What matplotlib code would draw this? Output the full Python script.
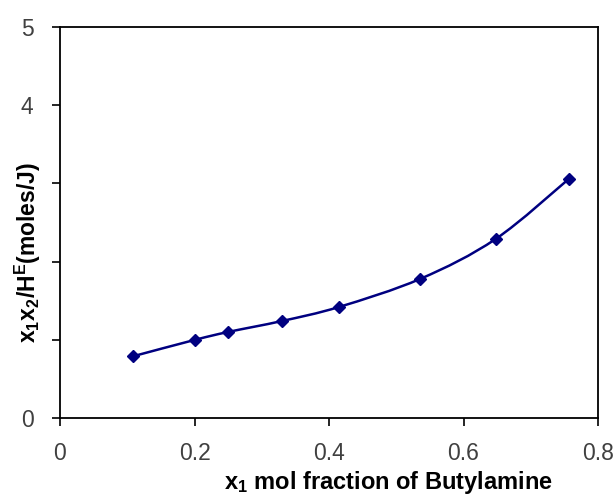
import matplotlib
matplotlib.use("Agg")
import matplotlib.pyplot as plt
from matplotlib.path import Path
from matplotlib.patches import PathPatch
import numpy as np

plt.rcParams["font.family"] = ["Liberation Sans", "DejaVu Sans"]
plt.rcParams["mathtext.default"] = "regular"

x1 = [0.109, 0.201, 0.250, 0.330, 0.415, 0.536, 0.648, 0.757]
ratio = [0.79, 1.00, 1.10, 1.24, 1.42, 1.78, 2.29, 3.06]


def smooth_path(xs, ys, t=1 / 6):
    # Catmull-Rom style bezier through the points (like a smoothed line)
    xs = np.asarray(xs)
    ys = np.asarray(ys)
    n = len(xs)
    verts = [(xs[0], ys[0])]
    codes = [Path.MOVETO]
    for i in range(n - 1):
        p0 = np.array([xs[max(i - 1, 0)], ys[max(i - 1, 0)]])
        p1 = np.array([xs[i], ys[i]])
        p2 = np.array([xs[i + 1], ys[i + 1]])
        p3 = np.array([xs[min(i + 2, n - 1)], ys[min(i + 2, n - 1)]])
        c1 = p1 + (p2 - p0) * t
        c2 = p2 - (p3 - p1) * t
        verts += [tuple(c1), tuple(c2), tuple(p2)]
        codes += [Path.CURVE4] * 3
    return Path(verts, codes)


def main():
    fig = plt.figure(figsize=(6.16, 4.95), dpi=100)
    ax = fig.add_axes([0.0974, 0.1556, 0.8734, 0.7899])

    ax.add_patch(PathPatch(smooth_path(x1, ratio), facecolor="none",
                           edgecolor="#000080", linewidth=1.8))
    ax.plot(x1, ratio, linestyle="none", marker="D", markersize=6,
            color="#000080")

    ax.set_xlim(0, 0.8)
    ax.set_ylim(0, 5)
    ax.set_xticks([0, 0.2, 0.4, 0.6, 0.8])
    ax.set_xticklabels(["0", "0.2", "0.4", "0.6", "0.8"])
    ax.set_yticks([0, 1, 2, 3, 4, 5])
    ax.set_yticklabels(["0", "", "", "", "4", "5"])
    ax.tick_params(direction="out", length=6, width=1.2, labelsize=16.5,
                   labelcolor="#404040")
    ax.tick_params(axis="x", pad=11)
    ax.tick_params(axis="y", pad=13)
    for s in ax.spines.values():
        s.set_linewidth(1.3)

    fig.text(0.63, 0.026, r"x$_1$ mol fraction of Butylamine",
             fontsize=17, fontweight="bold", ha="center", va="center")
    fig.text(0.046, 0.49, r"x$_1$x$_2$/H$^E$(moles/J)",
             fontsize=16.5, fontweight="bold", rotation=90,
             ha="center", va="center")

    fig.savefig("out.png", dpi=100)

main()
